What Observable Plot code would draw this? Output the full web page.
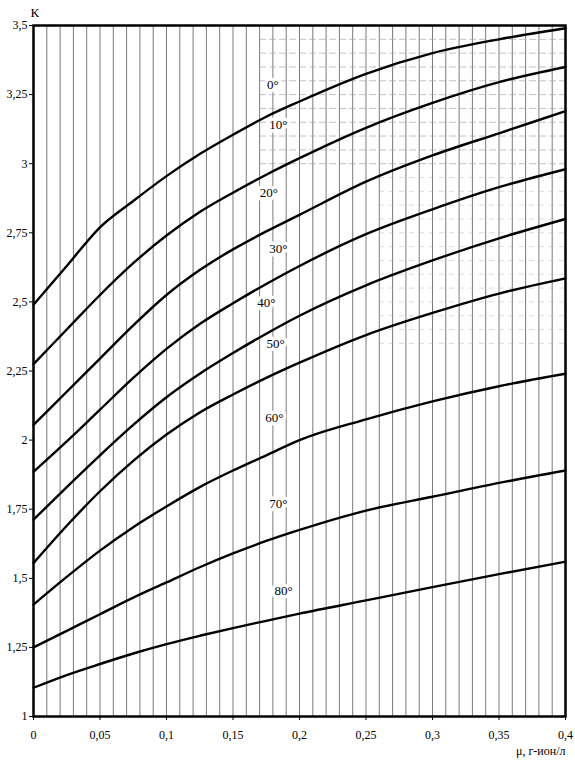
<!DOCTYPE html>
<html>
<head>
<meta charset="utf-8">
<script src="https://cdn.jsdelivr.net/npm/d3@7"></script>
<script src="https://cdn.jsdelivr.net/npm/@observablehq/plot@0.6"></script>
<style>
  html, body { margin: 0; padding: 0; background: #fff; }
</style>
</head>
<body>
<div id="chart"></div>
<script>
// ionic strength, g-ion/l
const mu = [0, 0.025, 0.05, 0.075, 0.1, 0.125, 0.15, 0.175, 0.2, 0.25, 0.3, 0.35, 0.4];
// K values per temperature
const k0  = [2.49, 2.63, 2.77, 2.865, 2.955, 3.035, 3.105, 3.17, 3.225, 3.325, 3.40, 3.45, 3.49];
const k10 = [2.275, 2.40, 2.525, 2.64, 2.74, 2.825, 2.895, 2.96, 3.02, 3.13, 3.22, 3.295, 3.35];
const k20 = [2.055, 2.175, 2.295, 2.415, 2.525, 2.615, 2.69, 2.755, 2.815, 2.935, 3.03, 3.11, 3.19];
const k30 = [1.885, 1.995, 2.11, 2.225, 2.33, 2.42, 2.495, 2.565, 2.63, 2.745, 2.835, 2.915, 2.98];
const k40 = [1.712, 1.83, 1.945, 2.055, 2.155, 2.24, 2.315, 2.385, 2.45, 2.56, 2.65, 2.73, 2.80];
const k50 = [1.555, 1.69, 1.815, 1.925, 2.02, 2.10, 2.165, 2.225, 2.28, 2.38, 2.46, 2.53, 2.585];
const k60 = [1.405, 1.505, 1.60, 1.685, 1.76, 1.83, 1.89, 1.945, 2.00, 2.075, 2.14, 2.195, 2.24];
const k70 = [1.25, 1.31, 1.37, 1.43, 1.485, 1.54, 1.59, 1.635, 1.675, 1.745, 1.795, 1.845, 1.89];
const k80 = [1.104, 1.15, 1.19, 1.228, 1.262, 1.292, 1.32, 1.346, 1.372, 1.42, 1.468, 1.515, 1.56];
const temps = ["0°", "10°", "20°", "30°", "40°", "50°", "60°", "70°", "80°"];
const series = [k0, k10, k20, k30, k40, k50, k60, k70, k80];

// curve label anchors (data coordinates)
const labelMu = [0.180, 0.184, 0.177, 0.184, 0.175, 0.182, 0.181, 0.184, 0.188];
const labelK  = [3.287, 3.142, 2.896, 2.693, 2.498, 2.350, 2.082, 1.771, 1.456];

const xTicks = [0, 0.05, 0.1, 0.15, 0.2, 0.25, 0.3, 0.35, 0.4];
const yTicks = [1, 1.25, 1.5, 1.75, 2, 2.25, 2.5, 2.75, 3, 3.25, 3.5];
const xGrid = d3.range(1, 40).map(i => i / 100);
const hGridUpper = [3.0, 3.05, 3.1, 3.15, 3.2, 3.25, 3.3, 3.35, 3.4, 3.45];
const hGridLower = [2.35, 2.4, 2.45, 2.5, 2.55, 2.6, 2.65, 2.7, 2.75, 2.8, 2.85, 2.9, 2.95];

const rows = [];
series.forEach((s, j) => s.forEach((k, i) => rows.push({mu: mu[i], k, t: temps[j]})));
const labels = temps.map((t, j) => ({t, mu: labelMu[j], k: labelK[j]}));

const fmt = d => String(d).replace(".", ",");

const chart = Plot.plot({
  width: 575,
  height: 764,
  marginLeft: 33,
  marginRight: 10,
  marginTop: 25,
  marginBottom: 48,
  style: {fontFamily: "'Liberation Serif', 'Times New Roman', serif", fontSize: "12px", background: "#fff", color: "#000"},
  x: {domain: [0, 0.4]},
  y: {domain: [1, 3.5]},
  marks: [
    Plot.ruleX(xGrid, {stroke: "#7a7a7a", strokeWidth: 1}),
    Plot.ruleY(hGridUpper, {x1: 0.17, x2: 0.4, stroke: "#a0a0a0", strokeWidth: 0.8, strokeDasharray: "7,3", strokeOpacity: 0.8}),
    Plot.ruleY(hGridLower, {x1: 0.26, x2: 0.4, stroke: "#b0b0b0", strokeWidth: 0.8, strokeDasharray: "5,5", strokeOpacity: 0.6}),
    Plot.line(rows, {x: "mu", y: "k", z: "t", stroke: "#000", strokeWidth: 2.4, curve: "monotone-x"}),
    Plot.text(labels, {x: "mu", y: "k", text: "t", fill: "#000", stroke: "#fff", strokeWidth: 7, fontSize: 13}),
    Plot.frame({stroke: "#000", strokeWidth: 2.5}),
    Plot.axisX({ticks: xTicks, tickFormat: fmt, tickSize: 4, tickPadding: 10, tickStrokeWidth: 1.5, fontSize: 12, label: null}),
    Plot.axisY({ticks: yTicks, tickFormat: fmt, tickSize: 4, tickPadding: 2, tickStrokeWidth: 1.5, fontSize: 12, label: null}),
    Plot.text(["К"], {frameAnchor: "top-left", dx: -3, dy: -18, textAnchor: "start", fontSize: 13}),
    Plot.text(["μ, г-ион/л"], {frameAnchor: "bottom-right", dx: 0, dy: 38, textAnchor: "end", fontSize: 12})
  ]
});
document.getElementById("chart").appendChild(chart);
</script>
</body>
</html>
